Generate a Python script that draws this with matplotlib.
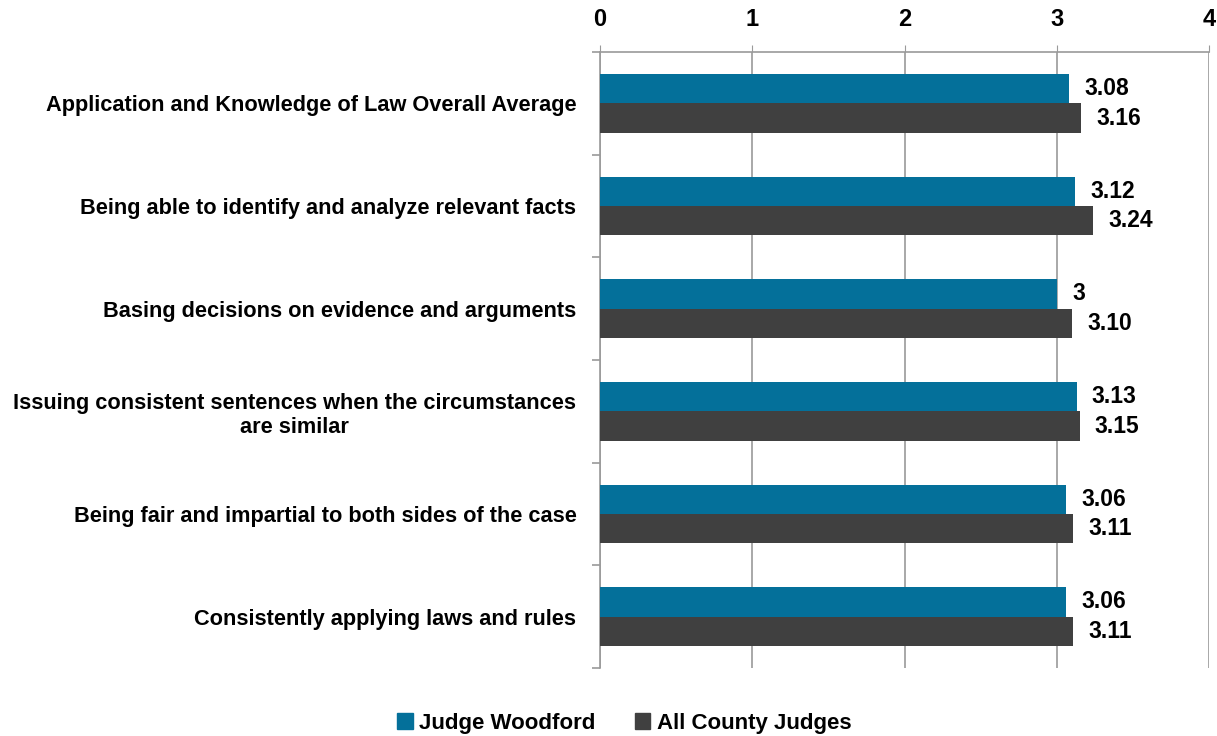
import matplotlib
matplotlib.use("Agg")
import matplotlib.pyplot as plt
import numpy as np
from matplotlib.patches import Patch

plt.rcParams['font.family'] = ['Liberation Sans', 'DejaVu Sans']
plt.rcParams['font.weight'] = 'bold'

categories = [
    "Application and Knowledge of Law Overall Average",
    "Being able to identify and analyze relevant facts",
    "Basing decisions on evidence and arguments",
    "Issuing consistent sentences when the circumstances\nare similar",
    "Being fair and impartial to both sides of the case",
    "Consistently applying laws and rules",
]
judge = [3.08, 3.12, 3.00, 3.13, 3.06, 3.06]
all_judges = [3.16, 3.24, 3.10, 3.15, 3.11, 3.11]
judge_labels = ["3.08", "3.12", "3", "3.13", "3.06", "3.06"]
all_labels = ["3.16", "3.24", "3.10", "3.15", "3.11", "3.11"]
series_names = ["Judge Woodford", "All County Judges"]
xticks = [0, 1, 2, 3, 4]

teal = "#04709A"
dark = "#404040"
grid_c = "#9A9A9A"

fig = plt.figure(figsize=(12.17, 7.36), dpi=100)
ax = fig.add_axes([600 / 1217, 1 - 668 / 736, 609 / 1217, 616 / 736])

y = np.arange(len(categories))
h = 0.286
ax.barh(y - h / 2, judge, height=h, color=teal, zorder=3)
ax.barh(y + h / 2, all_judges, height=h, color=dark, zorder=3)

# data labels
for yi, v, lab in zip(y, judge, judge_labels):
    ax.annotate(lab, (v, yi - h / 2), xytext=(11, 0), textcoords='offset points',
                va='center', ha='left', fontsize=16.5, fontweight='bold')
for yi, v, lab in zip(y, all_judges, all_labels):
    ax.annotate(lab, (v, yi + h / 2), xytext=(11, 0), textcoords='offset points',
                va='center', ha='left', fontsize=16.5, fontweight='bold')

ax.set_xlim(0, 4)
ax.set_ylim(len(categories) - 0.5, -0.5)
ax.set_xticks(xticks)
ax.xaxis.tick_top()
ax.tick_params(axis='x', which='major', length=5, color=grid_c, pad=10,
               labelsize=17)
ax.grid(axis='x', color=grid_c, linewidth=1.2, zorder=0)

ax.set_yticks(y)
ax.set_yticklabels(categories, fontsize=15.7, fontweight='bold')
for t in ax.get_yticklabels():
    t.set_multialignment('center')
ax.set_yticks(np.arange(len(categories) + 1) - 0.5, minor=True)
ax.tick_params(axis='y', which='major', length=0, pad=17)
ax.tick_params(axis='y', which='minor', length=6, color=grid_c, width=1.2)

for s in ['bottom', 'right']:
    ax.spines[s].set_visible(False)
for s in ['top', 'left']:
    ax.spines[s].set_color(grid_c)
    ax.spines[s].set_linewidth(1.2)

handles = [Patch(color=teal), Patch(color=dark)]
fig.legend(handles, series_names, loc='lower center', bbox_to_anchor=(0.513, -0.024),
           ncol=2, frameon=False, fontsize=16, handlelength=0.7, handleheight=0.7,
           handletextpad=0.3, columnspacing=1.75)

fig.savefig("out.png", dpi=100)
